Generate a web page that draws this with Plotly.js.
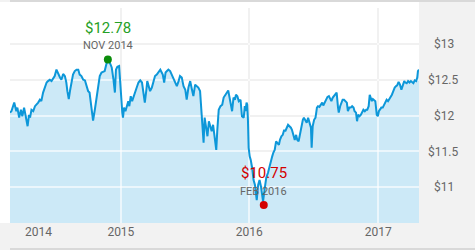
<!DOCTYPE html>
<html><head><meta charset="utf-8">
<script src="https://cdn.plot.ly/plotly-3.0.1.min.js"></script>
<style>html,body{margin:0;padding:0;background:#fff}#chart{width:475px;height:250px}</style>
</head><body><div id="chart"></div>
<script>
const dates = [
'2014-02-20','2014-02-24','2014-03-04','2014-03-10','2014-03-13','2014-03-18','2014-03-23','2014-03-27','2014-04-01','2014-04-06',
'2014-04-11','2014-04-15','2014-04-18','2014-04-22','2014-04-27','2014-05-02','2014-05-06','2014-05-11','2014-05-16','2014-05-20',
'2014-05-25','2014-05-30','2014-06-04','2014-06-08','2014-06-13','2014-06-18','2014-06-23','2014-06-27','2014-07-02','2014-07-07',
'2014-07-12','2014-07-16','2014-07-21','2014-07-26','2014-07-30','2014-08-02','2014-08-06','2014-08-10','2014-08-14','2014-08-18',
'2014-08-23','2014-08-28','2014-09-02','2014-09-06','2014-09-11','2014-09-16','2014-09-21','2014-09-25','2014-09-30','2014-10-04',
'2014-10-08','2014-10-11','2014-10-14','2014-10-19','2014-10-24','2014-10-28','2014-11-02','2014-11-07','2014-11-12','2014-11-16',
'2014-11-21','2014-11-25','2014-12-02','2014-12-06','2014-12-11','2014-12-15','2014-12-18','2014-12-22','2014-12-27','2014-12-30',
'2015-01-02','2015-01-05','2015-01-07','2015-01-10','2015-01-14','2015-01-18','2015-01-22','2015-01-25','2015-01-29','2015-02-02',
'2015-02-06','2015-02-11','2015-02-15','2015-02-20','2015-02-25','2015-03-02','2015-03-06','2015-03-10','2015-03-14','2015-03-17',
'2015-03-21','2015-03-25','2015-03-30','2015-04-03','2015-04-08','2015-04-13','2015-04-18','2015-04-23','2015-04-27','2015-04-30',
'2015-05-04','2015-05-08','2015-05-12','2015-05-16','2015-05-21','2015-05-26','2015-05-30','2015-06-04','2015-06-09','2015-06-14',
'2015-06-18','2015-06-23','2015-06-28','2015-07-03','2015-07-07','2015-07-12','2015-07-17','2015-07-22','2015-07-26','2015-07-31',
'2015-08-05','2015-08-09','2015-08-14','2015-08-17','2015-08-20','2015-08-24','2015-08-27','2015-08-31','2015-09-04','2015-09-08',
'2015-09-12','2015-09-16','2015-09-20','2015-09-25','2015-09-29','2015-10-02','2015-10-06','2015-10-11','2015-10-16','2015-10-20',
'2015-10-25','2015-10-30','2015-11-02','2015-11-05','2015-11-09','2015-11-13','2015-11-17','2015-11-21','2015-11-24','2015-11-28',
'2015-12-02','2015-12-07','2015-12-11','2015-12-16','2015-12-19','2015-12-21','2015-12-24','2015-12-26','2015-12-28','2015-12-30',
'2016-01-02','2016-01-05','2016-01-09','2016-01-13','2016-01-17','2016-01-20','2016-01-22','2016-01-26','2016-01-30','2016-02-03',
'2016-02-06','2016-02-09','2016-02-13','2016-02-16','2016-02-18','2016-02-23','2016-02-27','2016-03-02','2016-03-06','2016-03-09',
'2016-03-13','2016-03-17','2016-03-21','2016-03-25','2016-03-28','2016-04-01','2016-04-05','2016-04-09','2016-04-12','2016-04-16',
'2016-04-20','2016-04-24','2016-04-28','2016-05-01','2016-05-05','2016-05-09','2016-05-13','2016-05-16','2016-05-20','2016-05-24',
'2016-05-28','2016-06-01','2016-06-04','2016-06-08','2016-06-12','2016-06-16','2016-06-20','2016-06-24','2016-06-26','2016-06-29',
'2016-07-03','2016-07-07','2016-07-11','2016-07-14','2016-07-18','2016-07-22','2016-07-26','2016-07-29','2016-08-02','2016-08-06',
'2016-08-10','2016-08-14','2016-08-17','2016-08-21','2016-08-25','2016-08-29','2016-09-01','2016-09-05','2016-09-09','2016-09-11',
'2016-09-15','2016-09-18','2016-09-22','2016-09-26','2016-09-30','2016-10-04','2016-10-07','2016-10-11','2016-10-15','2016-10-19',
'2016-10-23','2016-10-26','2016-10-30','2016-11-02','2016-11-05','2016-11-09','2016-11-13','2016-11-16','2016-11-20','2016-11-24',
'2016-11-28','2016-12-01','2016-12-05','2016-12-08','2016-12-11','2016-12-14','2016-12-17','2016-12-20','2016-12-24','2016-12-28',
'2016-12-31','2017-01-03','2017-01-06','2017-01-10','2017-01-14','2017-01-18','2017-01-21','2017-01-25','2017-01-29','2017-02-02',
'2017-02-06','2017-02-09','2017-02-13','2017-02-17','2017-02-21','2017-02-24','2017-02-28','2017-03-04','2017-03-08','2017-03-12',
'2017-03-16','2017-03-19','2017-03-23','2017-03-27','2017-03-31','2017-04-04','2017-04-07','2017-04-11','2017-04-15','2017-04-19',
'2017-04-22','2017-04-24','2017-04-27'
];
const prices = [
12.04,12.06,12.18,12.06,12.11,11.97,12.08,11.99,12.11,11.99,
11.85,12.01,11.97,12.08,12.06,12.13,12.15,12.18,12.22,12.20,
12.32,12.39,12.46,12.48,12.50,12.48,12.53,12.55,12.64,12.57,
12.53,12.50,12.58,12.55,12.46,12.34,12.23,12.36,12.48,12.57,
12.62,12.64,12.64,12.57,12.55,12.50,12.49,12.41,12.34,12.32,
12.15,11.99,11.93,12.08,12.27,12.41,12.55,12.60,12.61,12.62,
12.72,12.78,12.72,12.67,12.50,12.32,12.64,12.68,12.69,12.46,
12.18,12.04,11.97,12.11,12.06,12.15,12.20,12.13,12.27,12.20,
12.27,12.34,12.39,12.46,12.49,12.46,12.32,12.18,12.34,12.48,
12.41,12.34,12.39,12.46,12.55,12.57,12.60,12.64,12.60,12.57,
12.46,12.60,12.62,12.64,12.62,12.57,12.53,12.48,12.41,12.48,
12.55,12.53,12.41,12.36,12.22,12.39,12.48,12.36,12.27,12.43,
12.41,12.39,12.34,12.08,11.85,11.62,11.97,11.85,11.71,11.92,
11.83,11.78,11.87,11.71,11.52,11.80,12.08,12.13,12.15,12.25,
12.29,12.32,12.35,12.27,12.18,12.06,12.25,12.22,12.29,12.27,
12.20,12.22,11.99,11.97,12.13,12.06,12.18,12.15,11.94,11.55,
11.43,11.38,11.27,11.10,11.03,10.92,10.82,11.03,11.10,11.01,
10.92,10.80,10.96,11.06,11.13,11.20,11.29,11.38,11.43,11.48,
11.52,11.64,11.62,11.59,11.66,11.71,11.73,11.80,11.78,11.83,
11.87,11.85,11.83,11.80,11.71,11.66,11.73,11.66,11.64,11.76,
11.87,11.94,11.97,11.94,11.90,11.97,11.90,11.83,11.55,11.85,
11.94,11.97,12.11,12.13,12.12,12.15,12.18,12.14,12.18,12.22,
12.26,12.27,12.23,12.20,12.25,12.27,12.29,12.32,12.11,12.04,
12.13,12.18,12.22,12.22,12.20,12.18,12.06,12.11,12.11,12.13,
12.11,12.06,12.04,11.92,12.01,11.99,12.01,12.04,12.08,12.06,
12.08,12.08,12.13,12.29,12.25,12.20,12.23,12.22,12.20,12.01,
11.99,12.06,12.08,12.11,12.11,12.15,12.18,12.22,12.20,12.23,
12.27,12.29,12.34,12.39,12.41,12.42,12.47,12.43,12.36,12.43,
12.48,12.46,12.45,12.48,12.46,12.48,12.46,12.45,12.49,12.48,
12.53,12.62,12.64
];
const yearLabels = ['2014', '2015', '2016', '2017'];
const yearLabelDates = ['2014-05-12', '2015-01-01', '2016-01-01', '2017-01-01'];
const yearGridDates = ['2015-01-01', '2016-01-01', '2017-01-01'];
const priceTicks = [11, 11.5, 12, 12.5, 13, 13.5];
const priceTickLabels = ['$11', '$11.5', '$12', '$12.5', '$13', ''];
const highPoint = {date: '2014-11-25', price: 12.78, label: 'NOV 2014'};
const lowPoint = {date: '2016-02-11', price: 10.75, label: 'FEB 2016'};
const xRange = ['2014-02-20', '2017-04-27'];
const yRange = [10.5, 13.5];

const NB = '\u00a0';
const yText = priceTickLabels.map(t => (t.length && t.length < 5) ? NB + NB + t : t);

const W = 475, H = 250, ML = 10, MR = 56, MT = 8, MB = 27;
const PW = W - ML - MR, PH = H - MT - MB;

const fillTrace = {
  x: dates, y: prices, xaxis: 'x', yaxis: 'y', type: 'scatter', mode: 'lines',
  fill: 'tozeroy', fillcolor: '#cce9f7', line: {width: 0, color: 'rgba(0,0,0,0)'}, hoverinfo: 'skip'
};
const lineTrace = {
  x: dates, y: prices, xaxis: 'x2', yaxis: 'y2', type: 'scatter', mode: 'lines',
  line: {color: '#0d97d9', width: 2}, hoverinfo: 'skip'
};
const dotTrace = {
  x: [highPoint.date, lowPoint.date], y: [highPoint.price, lowPoint.price],
  xaxis: 'x2', yaxis: 'y2', type: 'scatter', mode: 'markers', cliponaxis: false,
  marker: {size: 8, color: ['#0a8c0a', '#d40000'], line: {width: 0}}, hoverinfo: 'skip'
};

const gridGray = '#dcdcdc', gridWhite = 'rgba(255,255,255,0.6)';
const layout = {
  width: W, height: H,
  margin: {l: ML, r: MR, t: MT, b: MB, pad: 0},
  paper_bgcolor: '#f2f2f2', plot_bgcolor: 'rgba(0,0,0,0)',
  showlegend: false, hovermode: false,
  font: {family: 'Roboto, sans-serif', size: 12, color: '#666'},
  xaxis: {
    type: 'date', range: xRange, tickmode: 'array', tickvals: yearLabelDates.slice(1), ticktext: yearLabels.slice(1),
    showgrid: true, gridcolor: gridGray, gridwidth: 2, ticks: '', zeroline: false, showline: false,
    tickfont: {size: 12, color: '#666'}, fixedrange: true
  },
  yaxis: {
    range: yRange, side: 'right', tickmode: 'array', tickvals: priceTicks, ticktext: yText,
    showgrid: true, gridcolor: gridGray, gridwidth: 2, ticks: '', zeroline: false, showline: false,
    tickfont: {size: 12, color: '#666'}, ticklabelstandoff: 8, fixedrange: true
  },
  xaxis2: {
    type: 'date', range: xRange, anchor: 'y2', tickmode: 'array', tickvals: yearLabelDates.slice(0, 1), ticktext: yearLabels.slice(0, 1),
    showgrid: false, ticks: '', zeroline: false, showline: false, tickfont: {size: 12, color: '#666'},
    minor: {tickmode: 'array', tickvals: yearGridDates, showgrid: true, gridcolor: gridWhite, gridwidth: 2, ticks: ''},
    fixedrange: true
  },
  yaxis2: {
    range: yRange, anchor: 'x2', side: 'right', tickmode: 'array', tickvals: priceTicks,
    showticklabels: false, showgrid: true, gridcolor: gridWhite, gridwidth: 2, ticks: '', zeroline: false, showline: false,
    fixedrange: true
  },
  shapes: [
    {type: 'rect', xref: 'paper', yref: 'paper', layer: 'below', x0: -ML / PW - 0.01, x1: 1, y0: 0, y1: 1 + 6 / PH,
     fillcolor: '#ffffff', line: {width: 0}},
    {type: 'rect', xref: 'paper', yref: 'paper', layer: 'below', x0: 0, x1: (W - ML) / PW + 0.01, y0: 1 + 6 / PH, y1: 1 + 8 / PH + 0.01,
     fillcolor: '#d9d9d9', line: {width: 0}},
    {type: 'rect', xref: 'paper', yref: 'paper', layer: 'below', x0: 0, x1: (W - ML) / PW + 0.01, y0: -MB / PH - 0.01, y1: -(MB - 2) / PH,
     fillcolor: '#d9d9d9', line: {width: 0}}
  ],
  annotations: [
    {x: highPoint.date, y: highPoint.price, xref: 'x2', yref: 'y2', text: '$' + highPoint.price.toFixed(2), showarrow: false,
     yshift: 32, font: {size: 15, color: '#25a025'}},
    {x: highPoint.date, y: highPoint.price, xref: 'x2', yref: 'y2', text: highPoint.label, showarrow: false,
     yshift: 14, font: {size: 11, color: '#666'}},
    {x: lowPoint.date, y: lowPoint.price, xref: 'x2', yref: 'y2', text: '$' + lowPoint.price.toFixed(2), showarrow: false,
     yshift: 32, font: {size: 15, color: '#d40000'}},
    {x: lowPoint.date, y: lowPoint.price, xref: 'x2', yref: 'y2', text: lowPoint.label, showarrow: false,
     yshift: 14, font: {size: 11, color: '#666'}}
  ]
};

Plotly.newPlot('chart', [fillTrace, lineTrace, dotTrace], layout, {staticPlot: true, displayModeBar: false});
</script>
</body></html>
